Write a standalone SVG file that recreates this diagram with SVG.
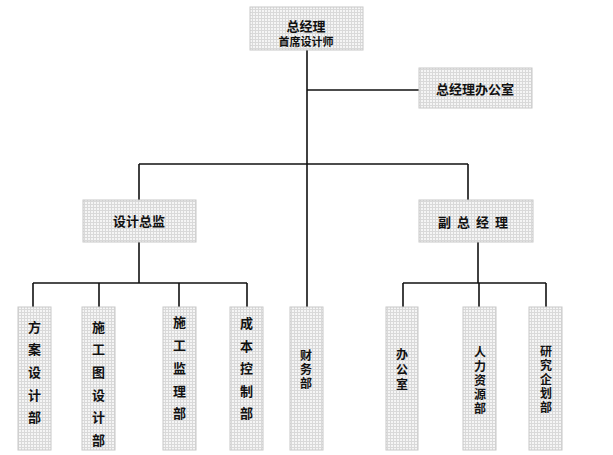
<svg xmlns="http://www.w3.org/2000/svg" width="613" height="455" viewBox="0 0 613 455">
<defs>
<pattern id="grid" width="3" height="3" patternUnits="userSpaceOnUse">
<rect width="3" height="3" fill="#f5f5f5"/>
<path d="M0 0.5H3M0.5 0V3" stroke="#d9d9d9" stroke-width="1"/>
</pattern>
</defs>
<style>
.box{fill:url(#grid);stroke:#c8c8c8;stroke-width:1}
.t{font-family:"Liberation Sans","Noto Sans CJK SC",sans-serif;font-weight:bold;fill:#111;text-anchor:middle;dominant-baseline:central}
.m{font-size:13px}
.s{font-size:11px}
.v{font-size:13px}
.n{font-size:12px}
.c line{stroke:#111;stroke-width:1.6}
</style>
<rect width="613" height="455" fill="#fff"/>
<g class="c" id="connectors">
<line x1="307" y1="50" x2="307" y2="307"/>
<line x1="307" y1="90" x2="419" y2="90"/>
<line x1="139" y1="164" x2="468" y2="164"/>
<line x1="139" y1="164" x2="139" y2="200"/>
<line x1="468" y1="164" x2="468" y2="200"/>
<line x1="139" y1="242" x2="139" y2="283"/>
<line x1="33" y1="283" x2="247" y2="283"/>
<line x1="33" y1="283" x2="33" y2="307"/>
<line x1="99" y1="283" x2="99" y2="307"/>
<line x1="179" y1="283" x2="179" y2="307"/>
<line x1="247" y1="283" x2="247" y2="307"/>
<line x1="478" y1="242" x2="478" y2="283"/>
<line x1="403" y1="283" x2="546" y2="283"/>
<line x1="403" y1="283" x2="403" y2="307"/>
<line x1="479" y1="283" x2="479" y2="307"/>
<line x1="546" y1="283" x2="546" y2="307"/>
</g>
<g id="ceo">
<rect class="box" x="250" y="7" width="113" height="43"/>
<text class="t m" x="306" y="26">总经理</text>
<text class="t s" x="306" y="42">首席设计师</text>
</g>
<g id="ceo-office">
<rect class="box" x="419" y="68" width="113" height="40"/>
<text class="t m" x="475" y="89">总经理办公室</text>
</g>
<g id="design-director">
<rect class="box" x="83" y="200" width="113" height="42"/>
<text class="t m" x="139" y="221">设计总监</text>
</g>
<g id="deputy-gm">
<rect class="box" x="419" y="200" width="114" height="42"/>
<text class="t m" x="476" y="222" letter-spacing="6">副总经理</text>
</g>
<g id="scheme">
<rect class="box" x="18" y="307" width="33" height="143"/>
<text class="t v" x="34.5" y="327">方</text>
<text class="t v" x="34.5" y="349">案</text>
<text class="t v" x="34.5" y="372">设</text>
<text class="t v" x="34.5" y="395">计</text>
<text class="t v" x="34.5" y="417">部</text>
</g>
<g id="construction-drawing">
<rect class="box" x="82" y="307" width="33" height="143"/>
<text class="t v" x="98.5" y="327">施</text>
<text class="t v" x="98.5" y="349">工</text>
<text class="t v" x="98.5" y="372">图</text>
<text class="t v" x="98.5" y="395">设</text>
<text class="t v" x="98.5" y="417">计</text>
<text class="t v" x="98.5" y="440">部</text>
</g>
<g id="supervision">
<rect class="box" x="163" y="307" width="33" height="143"/>
<text class="t v" x="179.5" y="322">施</text>
<text class="t v" x="179.5" y="345">工</text>
<text class="t v" x="179.5" y="368">监</text>
<text class="t v" x="179.5" y="391">理</text>
<text class="t v" x="179.5" y="413">部</text>
</g>
<g id="cost">
<rect class="box" x="230" y="307" width="33" height="143"/>
<text class="t v" x="246.5" y="323">成</text>
<text class="t v" x="246.5" y="346">本</text>
<text class="t v" x="246.5" y="368">控</text>
<text class="t v" x="246.5" y="391">制</text>
<text class="t v" x="246.5" y="413">部</text>
</g>
<g id="finance">
<rect class="box" x="290" y="307" width="33" height="143"/>
<text class="t n" x="306" y="356">财</text>
<text class="t n" x="306" y="370">务</text>
<text class="t n" x="306" y="384">部</text>
</g>
<g id="office">
<rect class="box" x="386" y="307" width="32" height="143"/>
<text class="t n" x="402" y="355">办</text>
<text class="t n" x="402" y="370">公</text>
<text class="t n" x="402" y="385">室</text>
</g>
<g id="hr">
<rect class="box" x="463" y="307" width="33" height="143"/>
<text class="t n" x="480" y="353">人</text>
<text class="t n" x="480" y="367">力</text>
<text class="t n" x="480" y="381">资</text>
<text class="t n" x="480" y="395">源</text>
<text class="t n" x="480" y="409">部</text>
</g>
<g id="research">
<rect class="box" x="529" y="307" width="33" height="143"/>
<text class="t n" x="546" y="352">研</text>
<text class="t n" x="546" y="366">究</text>
<text class="t n" x="546" y="380">企</text>
<text class="t n" x="546" y="394">划</text>
<text class="t n" x="546" y="408">部</text>
</g>
</svg>
